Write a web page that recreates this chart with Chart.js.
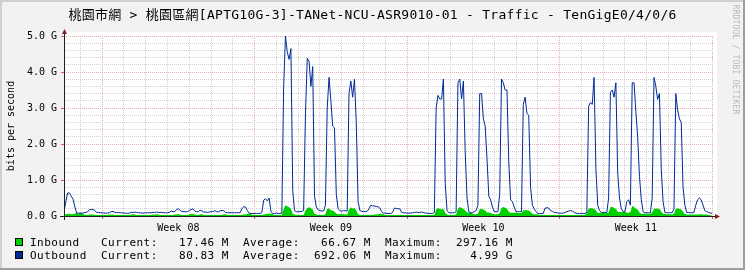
<!DOCTYPE html>
<html>
<head>
<meta charset="utf-8">
<script src="https://cdn.jsdelivr.net/npm/chart.js@4.4.1/dist/chart.umd.min.js"></script>
<style>
  html, body { margin: 0; padding: 0; background: #f2f2f2; overflow: hidden; }
  canvas { display: block; }
</style>
</head>
<body>
<canvas id="graph" width="745" height="270"></canvas>
<script>
const titleText = "桃園市網 > 桃園區網[APTG10G-3]-TANet-NCU-ASR9010-01 - Traffic - TenGigE0/4/0/6";
const yAxisTitle = "bits per second";
const watermark = "RRDTOOL / TOBI OETIKER";

// x axis: hours since Monday 00:00 of week 08
const weekLabels = ["Week 08", "Week 09", "Week 10", "Week 11"];
const weekMidHours = [84, 252, 420, 588];
const startHour = -42;   // first sample
const stepHours = 2;     // one sample every 2 hours
const endHour = 673;

// values in Gbit/s, one line per day
const outboundGbps = [
  0.12, 0.4, 0.64, 0.64, 0.55, 0.47, 0.25, 0.08, 0.08,                 // Sat (from 06:00)
  0.08, 0.08, 0.09, 0.1, 0.12, 0.17, 0.18, 0.18, 0.15, 0.1, 0.1, 0.09,
  0.09, 0.08, 0.08, 0.08, 0.09, 0.12, 0.13, 0.1, 0.09, 0.1, 0.09, 0.09, // week 08
  0.08, 0.08, 0.07, 0.08, 0.1, 0.1, 0.11, 0.1, 0.09, 0.09, 0.08, 0.08,
  0.09, 0.09, 0.09, 0.09, 0.1, 0.1, 0.11, 0.1, 0.1, 0.1, 0.09, 0.09,
  0.09, 0.1, 0.14, 0.12, 0.12, 0.18, 0.2, 0.16, 0.12, 0.12, 0.12, 0.12,
  0.15, 0.18, 0.2, 0.14, 0.12, 0.12, 0.16, 0.14, 0.11, 0.11, 0.1, 0.11,
  0.12, 0.12, 0.15, 0.12, 0.11, 0.15, 0.15, 0.15, 0.1, 0.09, 0.09, 0.09,
  0.09, 0.09, 0.09, 0.09, 0.09, 0.2, 0.26, 0.25, 0.15, 0.08, 0.07, 0.07,
  0.07, 0.07, 0.07, 0.07, 0.1, 0.44, 0.48, 0.42, 0.5, 0.12, 0.07, 0.07, // week 09
  0.08, 0.07, 0.07, 0.08, 3.6, 4.99, 4.55, 4.35, 4.65, 0.7, 0.15, 0.12,
  0.12, 0.12, 0.13, 0.15, 2.8, 4.38, 4.3, 3.6, 4.15, 0.55, 0.25, 0.17,
  0.15, 0.14, 0.14, 0.3, 3.0, 3.85, 3.2, 2.5, 2.45, 0.6, 0.2, 0.15,
  0.13, 0.16, 0.14, 0.14, 3.4, 3.75, 3.3, 3.8, 2.6, 0.4, 0.15, 0.13,
  0.13, 0.12, 0.13, 0.2, 0.3, 0.28, 0.28, 0.26, 0.26, 0.22, 0.12, 0.08,
  0.08, 0.07, 0.07, 0.07, 0.1, 0.22, 0.21, 0.2, 0.2, 0.1, 0.09, 0.09,
  0.08, 0.08, 0.08, 0.09, 0.1, 0.11, 0.1, 0.1, 0.11, 0.1, 0.08, 0.08,   // week 10
  0.07, 0.07, 0.07, 0.1, 3.0, 3.35, 3.25, 3.25, 3.8, 0.9, 0.15, 0.09,
  0.09, 0.09, 0.09, 0.12, 3.7, 3.8, 3.25, 3.75, 1.8, 0.5, 0.12, 0.09,
  0.09, 0.12, 0.15, 0.3, 3.4, 3.4, 2.7, 2.5, 1.6, 0.55, 0.45, 0.25,
  0.12, 0.12, 0.12, 0.6, 3.8, 3.7, 3.5, 3.5, 1.5, 0.45, 0.4, 0.25,
  0.12, 0.12, 0.12, 0.12, 3.1, 3.3, 2.85, 2.8, 0.8, 0.3, 0.2, 0.12,
  0.07, 0.07, 0.07, 0.07, 0.22, 0.23, 0.22, 0.15, 0.13, 0.1, 0.1, 0.08,
  0.08, 0.08, 0.08, 0.1, 0.12, 0.14, 0.15, 0.14, 0.1, 0.08, 0.07, 0.07, // week 11
  0.07, 0.07, 0.07, 0.1, 3.05, 3.15, 3.1, 3.85, 1.3, 0.3, 0.15, 0.1,
  0.1, 0.1, 0.1, 0.5, 3.45, 3.5, 3.3, 3.7, 1.2, 0.5, 0.2, 0.12,
  0.12, 0.4, 0.45, 0.3, 3.7, 3.7, 2.9, 2.2, 1.1, 0.45, 0.12, 0.09,
  0.09, 0.09, 0.09, 0.5, 3.85, 3.6, 3.24, 3.4, 1.3, 0.4, 0.1, 0.09,
  0.09, 0.09, 0.09, 0.2, 3.4, 2.95, 2.7, 2.6, 0.8, 0.3, 0.1, 0.1,
  0.09, 0.09, 0.1, 0.3, 0.45, 0.5, 0.45, 0.3, 0.15, 0.12, 0.1, 0.08,
  0.08
];

const inboundGbps = [
  0.03, 0.05, 0.06, 0.06, 0.05, 0.05, 0.07, 0.08, 0.06,
  0.08, 0.07, 0.04, 0.03, 0.03, 0.04, 0.04, 0.04, 0.03, 0.03, 0.03, 0.03,
  0.03, 0.03, 0.03, 0.03, 0.04, 0.04, 0.04, 0.03, 0.03, 0.03, 0.03, 0.03, // week 08
  0.03, 0.03, 0.03, 0.03, 0.04, 0.05, 0.04, 0.03, 0.03, 0.03, 0.03, 0.03,
  0.03, 0.03, 0.03, 0.03, 0.04, 0.04, 0.05, 0.04, 0.03, 0.03, 0.03, 0.03,
  0.03, 0.03, 0.03, 0.03, 0.04, 0.05, 0.05, 0.04, 0.03, 0.03, 0.03, 0.03,
  0.04, 0.06, 0.06, 0.04, 0.03, 0.03, 0.05, 0.05, 0.03, 0.03, 0.03, 0.03,
  0.03, 0.03, 0.03, 0.03, 0.03, 0.03, 0.03, 0.05, 0.05, 0.03, 0.03, 0.03,
  0.03, 0.03, 0.03, 0.03, 0.03, 0.03, 0.04, 0.04, 0.06, 0.07, 0.05, 0.03,
  0.03, 0.03, 0.03, 0.03, 0.03, 0.04, 0.05, 0.06, 0.07, 0.07, 0.05, 0.03, // week 09
  0.03, 0.03, 0.03, 0.03, 0.2, 0.297, 0.27, 0.24, 0.2, 0.06, 0.04, 0.03,
  0.03, 0.03, 0.03, 0.03, 0.15, 0.22, 0.24, 0.22, 0.18, 0.06, 0.04, 0.03,
  0.03, 0.03, 0.03, 0.05, 0.2, 0.21, 0.16, 0.15, 0.12, 0.06, 0.05, 0.05,
  0.06, 0.05, 0.04, 0.04, 0.18, 0.24, 0.2, 0.23, 0.15, 0.05, 0.03, 0.03,
  0.03, 0.03, 0.03, 0.03, 0.03, 0.03, 0.04, 0.04, 0.05, 0.06, 0.06, 0.05,
  0.03, 0.03, 0.03, 0.03, 0.03, 0.03, 0.03, 0.03, 0.03, 0.03, 0.03, 0.03,
  0.03, 0.03, 0.03, 0.03, 0.03, 0.03, 0.03, 0.03, 0.03, 0.03, 0.03, 0.03, // week 10
  0.03, 0.03, 0.03, 0.03, 0.18, 0.22, 0.2, 0.18, 0.2, 0.08, 0.04, 0.03,
  0.03, 0.03, 0.03, 0.04, 0.2, 0.25, 0.22, 0.2, 0.15, 0.1, 0.1, 0.1,
  0.06, 0.05, 0.05, 0.06, 0.18, 0.2, 0.18, 0.15, 0.1, 0.1, 0.08, 0.06,
  0.05, 0.05, 0.05, 0.08, 0.22, 0.25, 0.23, 0.2, 0.12, 0.09, 0.09, 0.09,
  0.09, 0.08, 0.08, 0.08, 0.15, 0.17, 0.16, 0.15, 0.12, 0.06, 0.05, 0.05,
  0.04, 0.03, 0.03, 0.03, 0.03, 0.03, 0.03, 0.03, 0.03, 0.03, 0.03, 0.03,
  0.03, 0.03, 0.03, 0.03, 0.03, 0.03, 0.03, 0.03, 0.03, 0.03, 0.03, 0.03, // week 11
  0.03, 0.03, 0.03, 0.08, 0.2, 0.22, 0.21, 0.2, 0.15, 0.08, 0.09, 0.09,
  0.09, 0.09, 0.09, 0.1, 0.24, 0.26, 0.22, 0.2, 0.12, 0.11, 0.11, 0.11,
  0.11, 0.1, 0.08, 0.12, 0.28, 0.25, 0.2, 0.18, 0.1, 0.06, 0.06, 0.06,
  0.06, 0.06, 0.06, 0.1, 0.2, 0.21, 0.2, 0.2, 0.12, 0.06, 0.06, 0.05,
  0.05, 0.05, 0.05, 0.06, 0.2, 0.21, 0.2, 0.18, 0.12, 0.05, 0.04, 0.04,
  0.04, 0.04, 0.04, 0.04, 0.04, 0.05, 0.05, 0.04, 0.04, 0.04, 0.03, 0.02,
  0.017
];

// legend
const seriesNames = ["Inbound", "Outbound"];
const seriesColors = ["#00cf00", "#002a97"];
const currentVals = ["17.46 M", "80.83 M"];
const averageVals = ["66.67 M", "692.06 M"];
const maximumVals = ["297.16 M", "4.99 G"];

const MONO = "'DejaVu Sans Mono', monospace";
const MAJOR_GRID = "#eda9a9";
const MINOR_GRID = "#cfcfcf";

const toPoints = vals => vals.map((v, i) => ({ x: startHour + i * stepHours, y: v }));

// day lines plus week label positions
const xTicks = [];
for (let h = -24; h <= 672; h += 24) xTicks.push(h);
weekMidHours.forEach(h => xTicks.push(h));
xTicks.sort((a, b) => a - b);

const isWhole = v => Math.abs(v - Math.round(v)) < 1e-6;

const rrdFrame = {
  id: "rrdFrame",
  beforeDraw(chart) {
    const { ctx, chartArea: a } = chart;
    ctx.save();
    ctx.fillStyle = "#f2f2f2";
    ctx.fillRect(0, 0, 745, 270);
    ctx.fillStyle = "#cfcfcf";
    ctx.fillRect(0, 0, 745, 2);
    ctx.fillRect(0, 0, 2, 270);
    ctx.fillStyle = "#9e9e9e";
    ctx.fillRect(0, 268, 745, 2);
    ctx.fillRect(743, 0, 2, 270);
    // plot canvas reaches a little past the top and right grid lines
    ctx.fillStyle = "#ffffff";
    ctx.fillRect(a.left, a.top - 4, a.right - a.left + 4, a.bottom - a.top + 4);
    ctx.restore();
  },
  afterDatasetsDraw(chart) {
    const { ctx, chartArea: a } = chart;
    ctx.save();
    ctx.strokeStyle = "#1f1f1f";
    ctx.lineWidth = 1;
    ctx.beginPath();
    ctx.moveTo(a.left + 0.5, a.bottom + 4);
    ctx.lineTo(a.left + 0.5, a.top - 4);
    ctx.moveTo(a.left - 4, a.bottom + 0.5);
    ctx.lineTo(a.right + 4, a.bottom + 0.5);
    ctx.stroke();
    ctx.fillStyle = "#801f1f";
    ctx.beginPath();
    ctx.moveTo(a.left - 2, a.top - 2);
    ctx.lineTo(a.left + 3, a.top - 2);
    ctx.lineTo(a.left + 0.5, a.top - 7);
    ctx.closePath();
    ctx.fill();
    ctx.beginPath();
    ctx.moveTo(a.right + 2, a.bottom - 2);
    ctx.lineTo(a.right + 2, a.bottom + 3);
    ctx.lineTo(a.right + 7, a.bottom + 0.5);
    ctx.closePath();
    ctx.fill();
    ctx.restore();
  },
  afterDraw(chart) {
    const ctx = chart.ctx;
    ctx.save();
    ctx.fillStyle = "#000";

    // title
    ctx.font = "13px 'DejaVu Sans Mono', 'Noto Sans CJK TC', monospace";
    ctx.letterSpacing = "0.27px";
    ctx.textAlign = "center";
    ctx.textBaseline = "alphabetic";
    ctx.fillText(titleText, 372.5, 19);

    // vertical label
    ctx.letterSpacing = "0px";
    ctx.font = "10px " + MONO;
    ctx.save();
    ctx.translate(11, 126);
    ctx.rotate(-Math.PI / 2);
    ctx.textBaseline = "middle";
    ctx.fillText(yAxisTitle, 0, 0);
    ctx.restore();

    // watermark
    ctx.save();
    ctx.font = "8px " + MONO;
    ctx.letterSpacing = "0.18px";
    ctx.fillStyle = "#b8b8b8";
    ctx.translate(735.5, 59.5);
    ctx.rotate(Math.PI / 2);
    ctx.textBaseline = "middle";
    ctx.fillText(watermark, 0, 0);
    ctx.restore();

    // legend, monospaced columns
    ctx.font = "11px " + MONO;
    ctx.textAlign = "left";
    const adv = 7.1;
    seriesNames.forEach((name, i) => {
      const top = 238 + i * 13;
      ctx.fillStyle = seriesColors[i];
      ctx.fillRect(15, top, 8, 8);
      ctx.strokeStyle = "#000";
      ctx.lineWidth = 1;
      ctx.strokeRect(15.5, top + 0.5, 7, 7);
      const line = name.padEnd(10) + "Current:" + currentVals[i].padStart(10) + "  " +
        "Average:" + averageVals[i].padStart(10) + "  " +
        "Maximum:" + maximumVals[i].padStart(10);
      ctx.fillStyle = "#000";
      for (let c = 0; c < line.length; c++) {
        if (line[c] !== " ") ctx.fillText(line[c], 30 + c * adv, top + 8);
      }
    });
    ctx.restore();
  }
};

new Chart(document.getElementById("graph"), {
  type: "line",
  data: {
    datasets: [
      {
        label: "Outbound",
        data: toPoints(outboundGbps),
        borderColor: "#002a97",
        borderWidth: 1,
        pointRadius: 0,
        fill: false,
        tension: 0,
        order: 0
      },
      {
        label: "Inbound",
        data: toPoints(inboundGbps),
        borderColor: "rgba(0,0,0,0)",
        borderWidth: 1,
        backgroundColor: "#00cf00",
        pointRadius: 0,
        fill: "origin",
        tension: 0,
        order: 1
      }
    ]
  },
  options: {
    responsive: false,
    animation: false,
    devicePixelRatio: 1,
    events: [],
    layout: { padding: { left: 0, top: 36, right: 32, bottom: 0 } },
    plugins: {
      legend: { display: false },
      title: { display: false },
      tooltip: { enabled: false }
    },
    scales: {
      x: {
        type: "linear",
        min: startHour,
        max: endHour,
        afterFit: s => { s.height = 54; },
        afterBuildTicks: s => { s.ticks = xTicks.map(v => ({ value: v })); },
        ticks: {
          autoSkip: false,
          maxRotation: 0,
          padding: 3,
          color: "#000",
          font: { family: MONO, size: 10 },
          callback: v => {
            const i = weekMidHours.indexOf(v);
            return i >= 0 ? weekLabels[i] : "";
          }
        },
        grid: {
          lineWidth: 1,
          tickLength: 3,
          color: c => {
            const v = c.tick.value;
            if (v % 24 !== 0) return "rgba(0,0,0,0)";
            return v % 168 === 0 ? MAJOR_GRID : MINOR_GRID;
          },
          tickColor: c => {
            const v = c.tick.value;
            if (v % 24 !== 0) return "rgba(0,0,0,0)";
            return v % 168 === 0 ? "#d06060" : "rgba(0,0,0,0)";
          }
        },
        border: { display: false, dash: [1, 1] }
      },
      y: {
        min: 0,
        max: 5,
        afterFit: s => { s.width = 64; },
        ticks: {
          stepSize: 0.2,
          autoSkip: false,
          padding: 4,
          color: "#000",
          font: { family: MONO, size: 10 },
          callback: v => isWhole(v) ? Math.round(v).toFixed(1) + " G" : ""
        },
        grid: {
          lineWidth: 1,
          tickLength: 3,
          color: c => isWhole(c.tick.value) ? MAJOR_GRID : MINOR_GRID,
          tickColor: c => isWhole(c.tick.value) ? "#d06060" : "rgba(0,0,0,0)"
        },
        border: { display: false, dash: [1, 1] }
      }
    }
  },
  plugins: [rrdFrame]
});
</script>
</body>
</html>
